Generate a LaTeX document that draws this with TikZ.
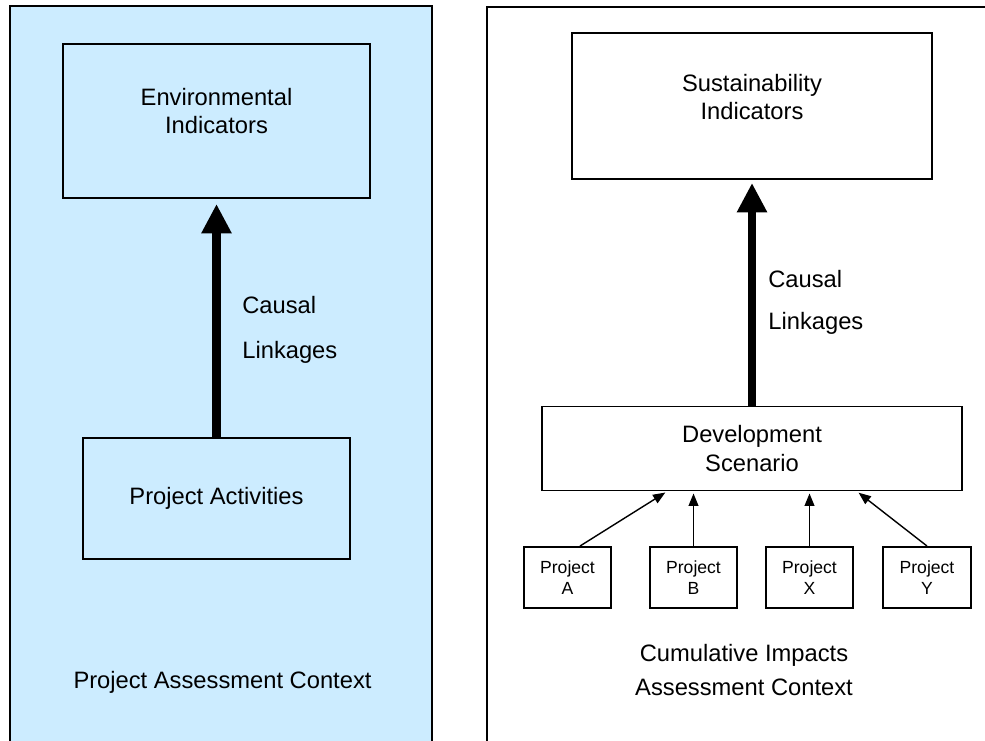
\documentclass[tikz,border=0pt]{standalone}
\usepackage{fontspec}
\setmainfont{Liberation Sans}
\usepackage{xcolor}
\usetikzlibrary{positioning,arrows.meta,calc}

\definecolor{panelblue}{RGB}{204,236,255}

\begin{document}
\begin{tikzpicture}[
    panel/.style={draw,line width=1.1pt},
    indbox/.style={draw,line width=1.1pt,align=center,font=\fontsize{13.5}{16}\selectfont},
    projbox/.style={draw,line width=1.1pt,minimum width=1.75cm,minimum height=1.22cm,align=center,font=\fontsize{10}{12.3}\selectfont},
    lbl/.style={inner sep=0pt,font=\fontsize{13.5}{16}\selectfont},
    causal/.style={-{Triangle[width=0.57cm,length=0.59cm]},line width=5pt},
    feed/.style={-{Triangle[width=5.5pt,length=7pt]},line width=0.8pt,shorten >=0.04cm}
  ]
    \useasboundingbox (0,0) rectangle (19.7,14.8);

    % Two context panels (run off the bottom of the page)
    \draw[panel,fill=panelblue] (0.2,-0.5) rectangle (8.64,14.68);
    \draw[panel,fill=white] (9.74,-0.5) rectangle (20.2,14.66);

    % Project assessment context - left
    \node[indbox,minimum width=6.14cm,minimum height=3.08cm] (envind) at (4.33,12.38) {};
    \node[lbl,align=center] (envtxt) at ([yshift=0.2cm]envind.center) {Environmental\\Indicators};
    \node[indbox,minimum width=5.34cm,minimum height=2.42cm] (projact) at (4.33,4.83) {Project Activities};
    \draw[causal,shorten >=0.1cm] (projact) -- (envind);
    \node[lbl,anchor=west,align=left,font=\fontsize{13.5}{25.6}\selectfont] (linkL) at (4.84,8.21) {Causal\\Linkages};
    \node[lbl] (projctx) at (4.45,1.16) {Project Assessment Context};

    % Cumulative impacts context - right
    \node[indbox,minimum width=7.2cm,minimum height=2.92cm] (sustind) at (15.04,12.68) {};
    \node[lbl,align=center] (susttxt) at ([yshift=0.18cm]sustind.center) {Sustainability\\Indicators};
    \node[indbox,minimum width=8.41cm,minimum height=1.68cm] (devscen) at (15.04,5.83) {Development\\Scenario};
    \draw[causal,shorten >=0.06cm] (devscen) -- (sustind);
    \node[lbl,anchor=west,align=left,font=\fontsize{13.5}{23.8}\selectfont] (linkR) at (15.36,8.76) {Causal\\Linkages};

    % Individual projects feeding the scenario
    \node[projbox] (projA) at (11.35,3.25) {Project\\A};
    \node[projbox] (projB) at (13.87,3.25) {Project\\B};
    \node[projbox] (projX) at (16.19,3.25) {Project\\X};
    \node[projbox] (projY) at (18.54,3.25) {Project\\Y};
    \draw[feed] ([xshift=0.25cm]projA.north) -- ([xshift=-1.7cm]devscen.south);
    \draw[feed] (projB) -- (projB |- devscen.south);
    \draw[feed] (projX) -- (projX |- devscen.south);
    \draw[feed] (projY.north) -- ([xshift=2.1cm]devscen.south);

    \node[lbl,align=center,font=\fontsize{13.5}{19.3}\selectfont] (cumctx) at (14.88,1.4) {Cumulative Impacts\\Assessment Context};
  \end{tikzpicture}
\end{document}
